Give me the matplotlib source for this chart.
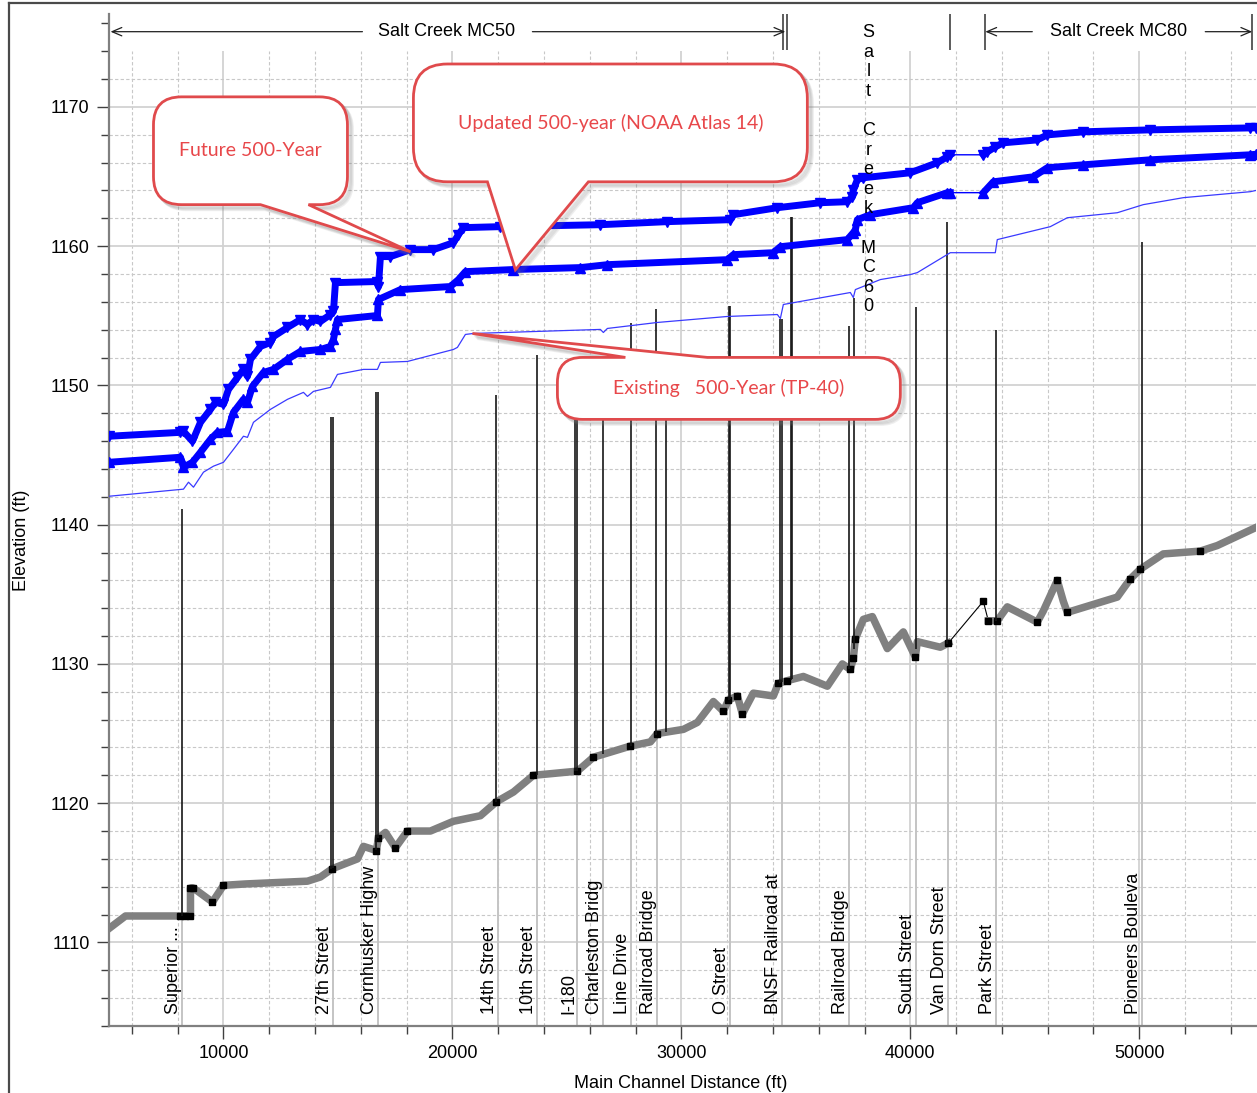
import matplotlib.pyplot as plt
import numpy as np
from matplotlib.path import Path
from matplotlib.patches import PathPatch
from matplotlib.transforms import IdentityTransform
from matplotlib.lines import Line2D
from matplotlib.ticker import MultipleLocator

plt.rcParams['font.family'] = ['Liberation Sans', 'DejaVu Sans']

# channel invert profile, main channel distance (ft) vs elevation (ft)
ground_x = [5000, 5720, 7249, 8122, 8340, 8559, 8559, 8690, 9520, 10000, 10961, 13668,
            14236, 14760, 15852, 16114, 16680, 16769, 17075, 17511, 18035, 19040, 20044,
            21223, 21922, 22664, 23538, 25459, 26158, 26769, 27773, 28647, 28953, 30088,
            30700, 31398, 31835, 32053, 32446, 32665, 33145, 34019, 34237, 34630, 35329,
            36377, 37032, 37381, 37512, 37600, 37949, 38342, 38997, 39696, 40220, 40307,
            41311, 41661, 43189, 43407, 43800, 44237, 45547, 45809, 46421, 46683, 46857,
            49041, 49609, 50045, 51050, 52666, 53408, 55100]
ground_y = [1111.0, 1111.9, 1111.9, 1111.9, 1111.9, 1111.9, 1113.9, 1113.9, 1112.9, 1114.1, 1114.2, 1114.4,
            1114.7, 1115.3, 1116.0, 1116.9, 1116.6, 1117.5, 1117.9, 1116.8, 1118.0, 1118.0, 1118.7,
            1119.1, 1120.1, 1120.8, 1122.0, 1122.3, 1123.3, 1123.6, 1124.1, 1124.4, 1125.0, 1125.3,
            1125.8, 1127.3, 1126.6, 1127.4, 1127.7, 1126.4, 1127.9, 1127.7, 1128.6, 1128.8, 1129.1,
            1128.4, 1130.0, 1129.6, 1130.4, 1131.8, 1133.2, 1133.4, 1131.1, 1132.3, 1130.5, 1131.6,
            1131.2, 1131.5, 1134.5, 1133.1, 1133.1, 1134.1, 1133.0, 1133.8, 1136.0, 1134.5, 1133.7,
            1134.8, 1136.1, 1136.8, 1137.9, 1138.1, 1138.5, 1139.8]
# stations shown with a black square on the invert
ground_marked = [8122, 8340, 8559, 8690, 9520, 10000, 14760, 16680, 16769,
                 17511, 18035, 21922, 23538, 25459, 26158, 27773, 28953, 31835,
                 32053, 32446, 32665, 34237, 34630, 37381, 37512, 37600, 40220,
                 41661, 43189, 43407, 43800, 45547, 46421, 46857, 49609, 50045, 52666]
# stretch of channel with no cross sections (junction between reaches)
reach_gap = (41748, 43189)

# water surface profiles
future_x = [5000, 8122, 8253, 8646, 8996, 9432, 9651, 10000, 10218, 10611, 10873, 11048, 11179,
            11616, 12052, 12184, 12795, 13363, 13668, 13930, 14236, 14673, 14804, 14891, 16725,
            16769, 16856, 17293, 18166, 19171, 20044, 20262, 20481, 22096, 26463, 29390, 32141,
            32271, 34193, 36071, 37250, 37469, 37512, 37687, 37949, 40002, 41180, 41617, 41748,
            43189, 43364, 43713, 44063, 45547, 45984, 47556, 50481, 54849, 55100]
future_y = [1146.35, 1146.63, 1146.70, 1145.99, 1147.35, 1148.28, 1148.78, 1148.64, 1149.71,
            1150.57, 1151.15, 1150.65, 1151.87, 1152.80, 1153.08, 1153.51, 1154.16, 1154.73,
            1154.37, 1154.73, 1154.59, 1155.09, 1155.31, 1157.38, 1157.46, 1157.10, 1159.25,
            1159.25, 1159.75, 1159.75, 1160.25, 1160.82, 1161.33, 1161.40, 1161.54, 1161.76,
            1161.90, 1162.26, 1162.76, 1163.12, 1163.19, 1163.55, 1164.05, 1164.77, 1164.91,
            1165.27, 1165.99, 1166.42, 1166.56, 1166.56, 1166.77, 1167.13, 1167.42, 1167.63,
            1167.99, 1168.21, 1168.35, 1168.49, 1168.50]

updated_x = [5000, 8122, 8253, 8646, 8996, 9432, 9738, 10175, 10437, 10873, 11048, 11266, 11747,
             12184, 12795, 13363, 14236, 14673, 14804, 14891, 14978, 16725, 16769, 17730, 19913,
             20262, 20568, 22664, 25590, 26769, 32010, 32271, 34019, 34324, 37250, 37512, 37600,
             37687, 38255, 40133, 40307, 41617, 41748, 43189, 43626, 45373, 45984, 47556, 50481,
             54849, 55100]
updated_y = [1144.48, 1144.84, 1144.12, 1144.48, 1145.20, 1146.13, 1146.63, 1146.70, 1148.07,
             1149.00, 1148.78, 1149.93, 1150.93, 1151.15, 1151.87, 1152.44, 1152.58, 1152.80,
             1153.30, 1154.02, 1154.73, 1155.02, 1156.17, 1156.88, 1157.10, 1157.60, 1158.17,
             1158.32, 1158.46, 1158.67, 1159.03, 1159.39, 1159.53, 1159.96, 1160.47, 1160.97,
             1161.18, 1161.90, 1162.26, 1162.76, 1163.12, 1163.84, 1163.84, 1163.84, 1164.62,
             1164.98, 1165.63, 1165.84, 1166.20, 1166.56, 1166.60]

existing_x = [5000, 8253, 8472, 8690, 9127, 9563, 10000, 10437, 10873, 11048, 11310, 12052,
              12795, 13494, 13668, 13930, 14673, 14978, 16114, 16725, 16856, 18035, 20044, 20219,
              20568, 20918, 26463, 26594, 26769, 28953, 32010, 34193, 34324, 34455, 37381, 37512,
              37600, 38692, 40002, 40307, 41748, 43713, 43800, 46115, 46857, 49041, 50176, 51923,
              54849, 55100]
existing_y = [1142.04, 1142.55, 1143.05, 1142.69, 1143.77, 1144.20, 1144.48, 1145.41, 1146.35,
              1146.27, 1147.35, 1148.28, 1149.00, 1149.50, 1149.21, 1149.57, 1149.86, 1150.79,
              1151.15, 1151.15, 1151.65, 1151.72, 1152.58, 1152.73, 1153.66, 1153.73, 1154.02,
              1153.80, 1154.09, 1154.52, 1154.95, 1155.09, 1154.80, 1155.81, 1156.67, 1156.31,
              1156.88, 1157.60, 1157.96, 1158.10, 1159.53, 1159.53, 1160.47, 1161.40, 1162.04,
              1162.40, 1162.98, 1163.48, 1163.91, 1164.00]

# bridge decks (station, top of road)
deck_x = [8210, 14717, 14804, 16681, 16769, 21922, 23712, 25372, 25459, 26594, 27817, 28909,
          29346, 32097, 32141, 34324, 34412, 34805, 34850, 37337, 37556, 40263, 41617, 43757, 50133]
deck_top = [1141.1, 1147.7, 1147.7, 1149.5, 1149.5, 1149.3, 1152.2, 1151.5, 1151.5, 1151.5,
            1154.5, 1155.5, 1151.0, 1155.7, 1155.7, 1154.8, 1154.8, 1162.1, 1162.1, 1154.3,
            1156.3, 1155.6, 1161.7, 1154.0, 1160.3]

label_x = [8210, 14804, 16769, 22009, 23712, 25459, 26594, 27817, 28953, 32141, 34412, 37337,
           40263, 41661, 43757, 50133]
label_names = ["Superior ...", "27th Street", "Cornhusker Highw", "14th Street", "10th Street",
               "I-180", "Charleston Bridg", "Line Drive", "Railroad Bridge", "O Street",
               "BNSF Railroad at", "Railroad Bridge", "South Street", "Van Dorn Street",
               "Park Street", "Pioneers Bouleva"]

x_min, x_max = 5000, 55100
y_min, y_max = 1104.0, 1176.67
grid_top = 1174

fig = plt.figure(figsize=(12.57, 10.93), dpi=100)
ax = fig.add_axes([109 / 1257, 67 / 1093, 1147 / 1257, 1012 / 1093])
ax.set_xlim(x_min, x_max)
ax.set_ylim(y_min, y_max)

# grid
for gx in np.arange(6000, x_max, 2000):
    if gx % 10000 == 0:
        ax.vlines(gx, y_min, grid_top, color='#d2d2d2', lw=1.3, zorder=0)
    else:
        ax.vlines(gx, y_min, grid_top, color='#c8c8c8', lw=0.8, linestyles=(0, (3, 2)), zorder=0)
for gy in np.arange(1106, 1173, 2):
    if gy % 10 == 0:
        ax.hlines(gy, x_min, x_max, color='#d2d2d2', lw=1.3, zorder=0)
    else:
        ax.hlines(gy, x_min, x_max, color='#c8c8c8', lw=0.8, linestyles=(0, (3, 2)), zorder=0)

gx_arr = np.array(ground_x)
gy_arr = np.array(ground_y)

# structure stations below the invert
ax.vlines(label_x, y_min, np.interp(label_x, gx_arr, gy_arr), color='#c4c4c4', lw=1.4, zorder=1)
# bridge decks above the invert
ax.vlines(deck_x, np.interp(deck_x, gx_arr, gy_arr), deck_top, color='#161616', lw=1.2, zorder=3)

# channel invert
ax.plot(gx_arr, gy_arr, color='black', lw=0.8, zorder=2)
for m in (gx_arr <= reach_gap[0], gx_arr > reach_gap[1]):
    ax.plot(gx_arr[m], gy_arr[m], color='#808080', lw=5.4, solid_joinstyle='round', zorder=2)
sq = np.isin(gx_arr, ground_marked)
ax.plot(gx_arr[sq], gy_arr[sq], ls='none', marker='s', ms=5, color='black', zorder=2.5)


def water_profile(xs, ys, marker):
    xs = np.array(xs)
    ys = np.array(ys)
    ax.plot(xs, ys, color='#0000ff', lw=1.0, zorder=4)
    for m in (xs <= reach_gap[0], xs >= reach_gap[1]):
        ax.plot(xs[m], ys[m], color='#0000ff', lw=5.0, marker=marker, ms=7,
                solid_joinstyle='round', zorder=4)


water_profile(future_x, future_y, 'v')
water_profile(updated_x, updated_y, '^')
ax.plot(existing_x, existing_y, color='#3a3aff', lw=0.9, zorder=4)

# structure names
for sx, name in zip(label_x, label_names):
    ax.text(sx, 1104.85, name, rotation=90, ha='right', va='bottom', fontsize=13, zorder=5)

# reach names across the top
band_y = 1175.4
ax.text(19738, band_y, 'Salt Creek MC50', ha='center', va='center', fontsize=13)
ax.text(49085, band_y, 'Salt Creek MC80', ha='center', va='center', fontsize=13)
arrow = dict(arrowstyle='->,head_length=0.7,head_width=0.3', lw=0.9, color='#202020',
             shrinkA=0, shrinkB=0)
for start, end in [(16070, 5065), (23494, 34542), (45329, 43276), (52884, 54936)]:
    ax.annotate('', xy=(end, band_y), xytext=(start, band_y), arrowprops=arrow,
                annotation_clip=False)
ax.vlines([34455, 34630, 41748, 43276, 54936], grid_top + 0.1, y_max, color='#303030', lw=1.1)
ax.text(38167, 1175.95, '\n'.join('Salt Creek MC60'), ha='center',
        va='top', fontsize=13, linespacing=1.2, zorder=8)

# axes styling
ax.xaxis.set_major_locator(MultipleLocator(10000))
ax.xaxis.set_minor_locator(MultipleLocator(2000))
ax.yaxis.set_major_locator(MultipleLocator(10))
ax.yaxis.set_minor_locator(MultipleLocator(2))
ax.tick_params(which='major', length=9, width=1, color='#404040', labelsize=13, pad=5)
ax.tick_params(which='minor', length=6, width=1, color='#404040')
ax.set_yticks(np.arange(1110, 1171, 10))
for side in ('top', 'right'):
    ax.spines[side].set_visible(False)
for side in ('left', 'bottom'):
    ax.spines[side].set_color('#808080')
    ax.spines[side].set_linewidth(1.6)

fig.text(22 / 1257, 1 - 540 / 1093, 'Elevation (ft)', rotation=90, ha='center', va='center',
         fontsize=13)
fig.text(681 / 1257, 1 - 1084 / 1093, 'Main Channel Distance (ft)', ha='center', va='center',
         fontsize=13)

# frame of the exported graphic
fig.add_artist(Line2D([9 / 1257, 9 / 1257], [0, 1 - 3 / 1093], transform=fig.transFigure,
                      color='#4a4a4a', lw=1.6))
fig.add_artist(Line2D([9 / 1257, 1], [1 - 3 / 1093, 1 - 3 / 1093], transform=fig.transFigure,
                      color='#4a4a4a', lw=1.6))


# speech-bubble callouts
def bubble(text, box, base, tip, edge, radius):
    to_px = ax.transData.transform
    L, B = to_px((box[0], box[1]))
    R, T = to_px((box[2], box[3]))
    ba = to_px((base[0], box[1]))[0]
    bb = to_px((base[1], box[1]))[0]
    tx, ty = to_px(tip)
    r = radius
    verts = [(L + r, T)]
    codes = [Path.MOVETO]
    if edge == 'top':
        verts += [(ba, T), (tx, ty), (bb, T)]
        codes += [Path.LINETO] * 3
    verts += [(R - r, T), (R, T), (R, T - r), (R, B + r), (R, B), (R - r, B)]
    codes += [Path.LINETO, Path.CURVE3, Path.CURVE3, Path.LINETO, Path.CURVE3, Path.CURVE3]
    if edge == 'bottom':
        verts += [(bb, B), (tx, ty), (ba, B)]
        codes += [Path.LINETO] * 3
    verts += [(L + r, B), (L, B), (L, B + r), (L, T - r), (L, T), (L + r, T), (0, 0)]
    codes += [Path.LINETO, Path.CURVE3, Path.CURVE3, Path.LINETO, Path.CURVE3, Path.CURVE3,
              Path.CLOSEPOLY]
    verts = np.array(verts, dtype=float)
    for k in (5, 4, 3, 2):
        shadow = Path(verts + [k, -k], codes)
        fig.add_artist(PathPatch(shadow, transform=IdentityTransform(), facecolor='none',
                                 edgecolor='#7a7a7a', lw=2.2, alpha=0.12, zorder=9))
    fig.add_artist(PathPatch(Path(verts, codes), transform=IdentityTransform(),
                             facecolor='white', edgecolor='#e04a4c', lw=2.0, zorder=10))
    cx, cy = (L + R) / 2, (B + T) / 2
    fig.text(cx / fig.bbox.width, cy / fig.bbox.height, text, ha='center', va='center',
             fontsize=14, color='#e8474a', family=['Lato', 'DejaVu Sans'], zorder=11)


bubble('Future 500-Year', (6943, 1162.98, 15415, 1170.72), (11616, 13712), (18166, 1159.6),
       'bottom', 28)
bubble('Updated 500-year (NOAA Atlas 14)', (18297, 1164.62, 35503, 1173.08), (21529, 25940),
       (22752, 1158.3), 'bottom', 34)
bubble('Existing   500-Year (TP-40)', (24586, 1147.56, 39565, 1152.01), (27555, 31136),
       (20874, 1153.73), 'top', 25)

fig.savefig('out.png', dpi=100)
